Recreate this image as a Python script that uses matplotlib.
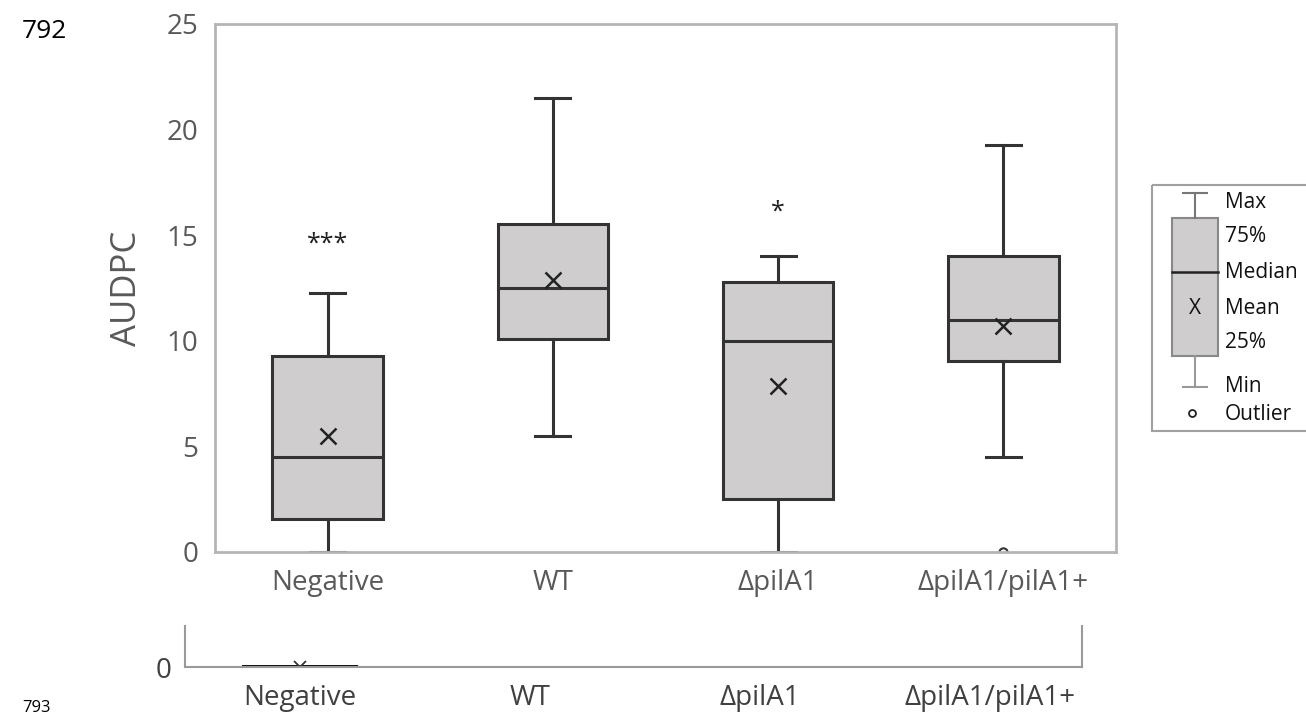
import matplotlib
matplotlib.use("Agg")
import matplotlib.pyplot as plt
from matplotlib.patches import Rectangle

plt.rcParams['font.family'] = ['Open Sans', 'DejaVu Sans']

# --- data ---
strains = ['Negative', 'WT', 'ΔpilA1', 'ΔpilA1/pilA1+']
whis_lo = [0.0, 5.5, 0.0, 4.5]
q1 = [1.55, 10.1, 2.5, 9.05]
median = [4.5, 12.5, 10.0, 11.0]
q3 = [9.3, 15.55, 12.8, 14.0]
whis_hi = [12.25, 21.5, 14.0, 19.25]
means = [5.5, 12.9, 7.85, 10.7]
outliers = [[], [], [], [0.0]]
signif = ['***', '', '*', '']
signif_y = [14.6, 0, 16.1, 0]

# lower strip (second copy of the panel, only the Negative group at zero)
strip_vals = [0.0, None, None, None]

box_fill = '#cfcdce'
dark = '#333333'
frame = '#b5b5b5'
tick_col = '#595959'

fig = plt.figure(figsize=(13.06, 7.17), dpi=100)

# main panel
ax = fig.add_axes([215 / 1306, 1 - 552 / 717, 901 / 1306, 528 / 717])
stats = []
for i, name in enumerate(strains):
    stats.append(dict(label=name, whislo=whis_lo[i], q1=q1[i], med=median[i],
                      q3=q3[i], whishi=whis_hi[i], mean=means[i], fliers=outliers[i]))
ax.bxp(stats, positions=range(len(strains)), widths=0.49, capwidths=0.155,
       showmeans=True, patch_artist=True,
       boxprops=dict(facecolor=box_fill, edgecolor=dark, linewidth=2.2),
       medianprops=dict(color=dark, linewidth=2.2),
       whiskerprops=dict(color=dark, linewidth=2.2),
       capprops=dict(color=dark, linewidth=2.2),
       meanprops=dict(marker='x', markersize=12, markeredgecolor='#222222',
                      markeredgewidth=1.8),
       flierprops=dict(marker='o', markersize=6, markerfacecolor='none',
                       markeredgecolor=dark, markeredgewidth=1.5))
for i, s in enumerate(signif):
    if s:
        ax.text(i, signif_y[i], s, ha='center', va='center', fontsize=18, color='#222222')

ax.set_xlim(-0.5, len(strains) - 0.5)
ax.set_ylim(0, 25)
ax.set_yticks([0, 5, 10, 15, 20, 25])
ax.tick_params(length=0, labelsize=20, labelcolor=tick_col, pad=12)
ax.tick_params(axis='x', pad=12)
ax.set_xticklabels(strains)
ax.set_ylabel('AUDPC', fontsize=25, color=tick_col, labelpad=16)
for sp in ax.spines.values():
    sp.set_color(frame)
    sp.set_linewidth(2)

# lower strip
ax2 = fig.add_axes([185 / 1306, 1 - 667 / 717, 897 / 1306, 41 / 717])
neg_stats = [dict(label=strains[0], whislo=strip_vals[0], q1=strip_vals[0],
                  med=strip_vals[0], q3=strip_vals[0], whishi=strip_vals[0],
                  mean=strip_vals[0], fliers=[])]
ax2.bxp(neg_stats, positions=[0], widths=0.49, showcaps=False, showmeans=True,
        boxprops=dict(color='#111111', linewidth=3.5),
        medianprops=dict(color='#111111', linewidth=3.5),
        whiskerprops=dict(color='#111111', linewidth=3.5),
        meanprops=dict(marker='x', markersize=8, markeredgecolor='#333333',
                       markeredgewidth=1.3))
ax2.set_xlim(-0.5, 3.4)
ax2.set_ylim(0, 1)
ax2.set_yticks([0])
ax2.set_xticks(range(len(strains)))
ax2.set_xticklabels(strains)
ax2.tick_params(length=0, labelsize=20, labelcolor='#404040', pad=10)
ax2.tick_params(axis='x', pad=12)
ax2.spines['top'].set_visible(False)
for k in ['left', 'right', 'bottom']:
    ax2.spines[k].set_color('#9a9a9a')
    ax2.spines[k].set_linewidth(1.5)

# overlay for legend key and page numbers (pixel coordinates)
ov = fig.add_axes([0, 0, 1, 1])
ov.set_xlim(0, 1306)
ov.set_ylim(717, 0)
ov.axis('off')

ov.add_patch(Rectangle((1152, 185), 200, 246, fill=False, edgecolor='#a0a0a0', linewidth=1.5))
kx = 1195
ov.plot([1183, 1207], [193, 193], color='#777777', lw=1.5)
ov.plot([kx, kx], [193, 218], color='#777777', lw=1.5)
ov.add_patch(Rectangle((1172, 218), 46, 138, facecolor=box_fill, edgecolor='#888888', linewidth=1.5))
ov.plot([1172, 1218], [272, 272], color='#222222', lw=1.8)
ov.text(kx, 309, 'X', ha='center', va='center', fontsize=15, color='#111111')
ov.plot([kx, kx], [356, 387], color='#999999', lw=1.5)
ov.plot([1183, 1207], [387, 387], color='#999999', lw=1.5)
ov.plot([1192], [413], marker='o', markersize=5, markerfacecolor='none',
        markeredgecolor='#222222', markeredgewidth=1.3)
key_labels = ['Max', '75%', 'Median', 'Mean', '25%', 'Min', 'Outlier']
key_y = [203, 237, 273, 309, 343, 386, 414]
for lab, y in zip(key_labels, key_y):
    ov.text(1225, y, lab, ha='left', va='center', fontsize=15, color='#111111')

ov.text(22, 32, '792', ha='left', va='center', fontsize=19, color='black')
ov.text(22, 716, '793', ha='left', va='bottom', fontsize=12, color='black')

fig.savefig('out.png', dpi=100)
